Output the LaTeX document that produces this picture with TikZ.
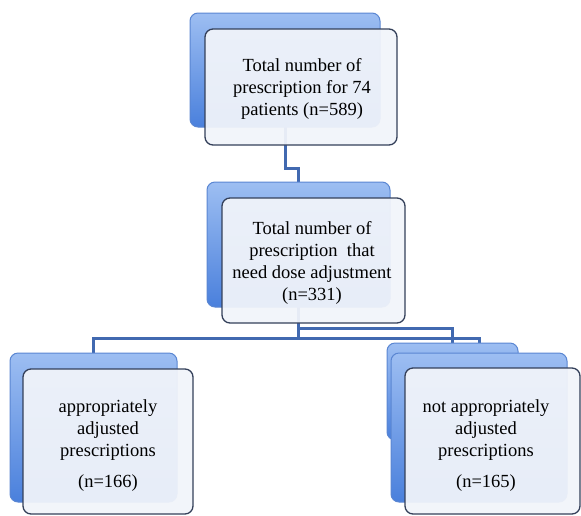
\documentclass[tikz,border=0pt]{standalone}
\usepackage{fontspec}
\setmainfont{Liberation Serif}
\newfontfamily\diagserif{Liberation Serif}
\definecolor{connc}{HTML}{4169B0}
\definecolor{backtop}{HTML}{9DBEF2}
\definecolor{backbot}{HTML}{4A80DC}
\definecolor{backdraw}{HTML}{5A86D2}
\definecolor{frontfill}{HTML}{F1F4FA}
\definecolor{frontdraw}{HTML}{34405A}
\pgfdeclarelayer{bg}
\pgfsetlayers{bg,main}
\begin{document}
\begin{tikzpicture}[x=1pt,y=-1pt,
 backbox/.style={rectangle, rounded corners=8pt, inner sep=0pt, outer sep=0pt, top color=backtop, bottom color=backbot, draw=backdraw, line width=1pt},
 frontbox/.style={rectangle, rounded corners=8pt, inner sep=0pt, outer sep=0pt, fill=frontfill, fill opacity=0.94, draw=frontdraw, line width=1.3pt},
 txt/.style={align=center, font=\diagserif\fontsize{18.5}{22}\selectfont, inner sep=0pt},
 connline/.style={draw=connc, line width=3pt, line join=miter}]
\useasboundingbox (0,0) rectangle (581,515);
% back boxes
\node[backbox, minimum width=190pt, minimum height=114pt] (tb) at (285,70) {};
\node[backbox, minimum width=183pt, minimum height=125pt] (mb) at (298.5,244.5) {};
\node[backbox, minimum width=167pt, minimum height=149pt] (lb) at (93.5,427.5) {};
\node[backbox, minimum width=131pt, minimum height=97pt] (rb1) at (452.5,391.5) {};
\node[backbox, minimum width=176pt, minimum height=149pt] (rb2) at (479,427.5) {};
% connectors
\coordinate (j1) at (290,168);
\coordinate (j2) at (200,338);
\coordinate (j3) at (380,328);
\coordinate (j4) at (400,338);
\begin{pgfonlayer}{bg}
\draw[connline] (tb.south) |- (j1) -| (mb.north);
\draw[connline] (mb.south) |- (j2) -| (lb.north);
\draw[connline] (mb.south) |- (j3) -| (rb1.north);
\draw[connline] (mb.south) |- (j4) -| (rb2.north);
\end{pgfonlayer}
% front boxes
\node[frontbox, minimum width=192pt, minimum height=116pt] (tf) at (301,87) {};
\node[frontbox, minimum width=183pt, minimum height=125pt] (mf) at (313.5,260.5) {};
\node[frontbox, minimum width=170pt, minimum height=145pt] (lf) at (108,441.5) {};
\node[frontbox, minimum width=175pt, minimum height=146pt] (rf) at (492.5,441) {};
% texts
\node[txt] (tt) at (302,89) {Total number of\\prescription for 74\\patients (n=589)};
\node[txt] (mt) at (312,263) {Total number of\\prescription\ \ that\\need dose adjustment\\(n=331)};
\node[txt] (lt) at (108,446) {appropriately\\adjusted\\prescriptions\\[9pt](n=166)};
\node[txt] (rt) at (486,446) {not appropriately\\adjusted\\prescriptions\\[9pt](n=165)};
\end{tikzpicture}
\end{document}
